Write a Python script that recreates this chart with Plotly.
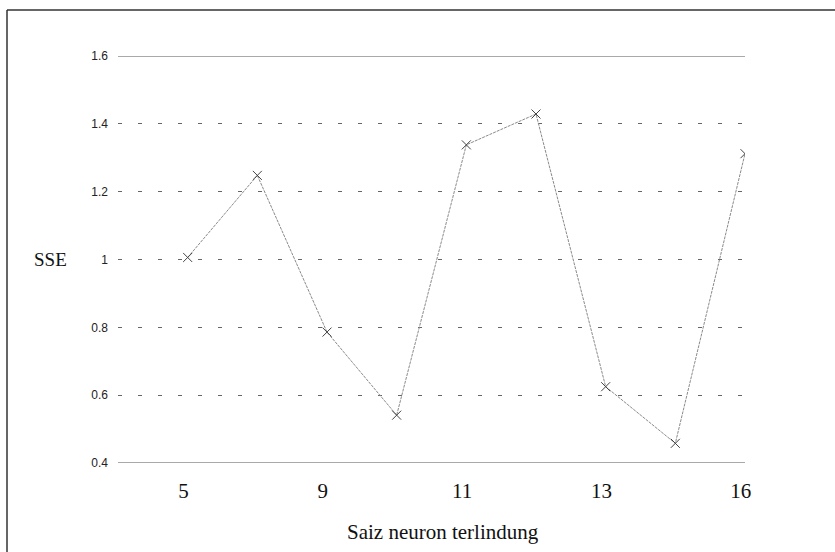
import plotly.graph_objects as go

categories = ["5", "7", "9", "10", "11", "12", "13", "15", "16"]
shown_labels = ["5", "9", "11", "13", "16"]
sse = [1.006, 1.248, 0.786, 0.541, 1.338, 1.429, 0.625, 0.458, 1.312]
y_ticks = [0.4, 0.6, 0.8, 1.0, 1.2, 1.4, 1.6]
y_tick_text = ["0.4", "0.6", "0.8", "1", "1.2", "1.4", "1.6"]

W, H = 835, 552
L, R, T, B = 118, 90, 56, 89
pw, ph = W - L - R, H - T - B

idx = list(range(len(categories)))
shown_idx = [categories.index(c) for c in shown_labels]

fig = go.Figure()
fig.add_trace(go.Scatter(
    x=idx, y=sse, mode="lines+markers",
    line=dict(color="#8a8a8a", width=1, dash="3px,1px"),
    marker=dict(symbol="x-thin", size=9, line=dict(color="#444444", width=1)),
    showlegend=False, hoverinfo="skip"))

# solid top/bottom gridlines
for yv in (0.4, 1.6):
    fig.add_shape(type="line", xref="paper", yref="y", x0=0, x1=1, y0=yv, y1=yv,
                  line=dict(color="#555555", width=1.2), layer="below")

serif = "Liberation Serif, Times New Roman, serif"
sans = "Liberation Sans, Arial, sans-serif"

fig.update_layout(
    width=W, height=H,
    margin=dict(l=L, r=R, t=T, b=B),
    paper_bgcolor="white", plot_bgcolor="white",
    xaxis=dict(
        range=[-1, len(categories) - 1],
        tickmode="array",
        tickvals=[i - 0.06 for i in shown_idx],
        ticktext=shown_labels,
        tickfont=dict(family=serif, size=21, color="#111111"),
        showgrid=False, zeroline=False, showline=False,
        ticks="", ticklabelstandoff=13,
    ),
    yaxis=dict(
        range=[0.4, 1.6],
        tickmode="array", tickvals=y_ticks, ticktext=y_tick_text,
        tickfont=dict(family=sans, size=12, color="#222222"),
        showgrid=True, gridcolor="#666666", gridwidth=1, griddash="4px,16px",
        zeroline=False, showline=False, ticks="", ticklabelstandoff=9,
    ),
)

# y-axis title as horizontal text
fig.add_annotation(text="SSE", xref="paper", yref="y",
                   x=(69 - L) / pw, y=1.0, xanchor="right", yanchor="middle",
                   showarrow=False, font=dict(family=serif, size=19, color="#111111"))
# x-axis title
fig.add_annotation(text="Saiz neuron terlindung", xref="paper", yref="paper",
                   x=(443 - L) / pw, y=-(532 - (T + ph)) / ph,
                   xanchor="center", yanchor="middle",
                   showarrow=False, font=dict(family=serif, size=21, color="#111111"))

# outer frame (top and left edges of the scanned figure)
fig.add_shape(type="line", xref="paper", yref="paper",
              x0=(7 - L) / pw, x1=(W - L) / pw,
              y0=1 + (T - 10) / ph, y1=1 + (T - 10) / ph,
              line=dict(color="#333333", width=1.5))
fig.add_shape(type="line", xref="paper", yref="paper",
              x0=(7 - L) / pw, x1=(7 - L) / pw,
              y0=1 + (T - 10) / ph, y1=-(H - T - ph) / ph,
              line=dict(color="#333333", width=1.5))

fig.write_html("out.html", config={"displayModeBar": False},
               post_script="document.body.style.margin='0';document.body.style.padding='0';")
